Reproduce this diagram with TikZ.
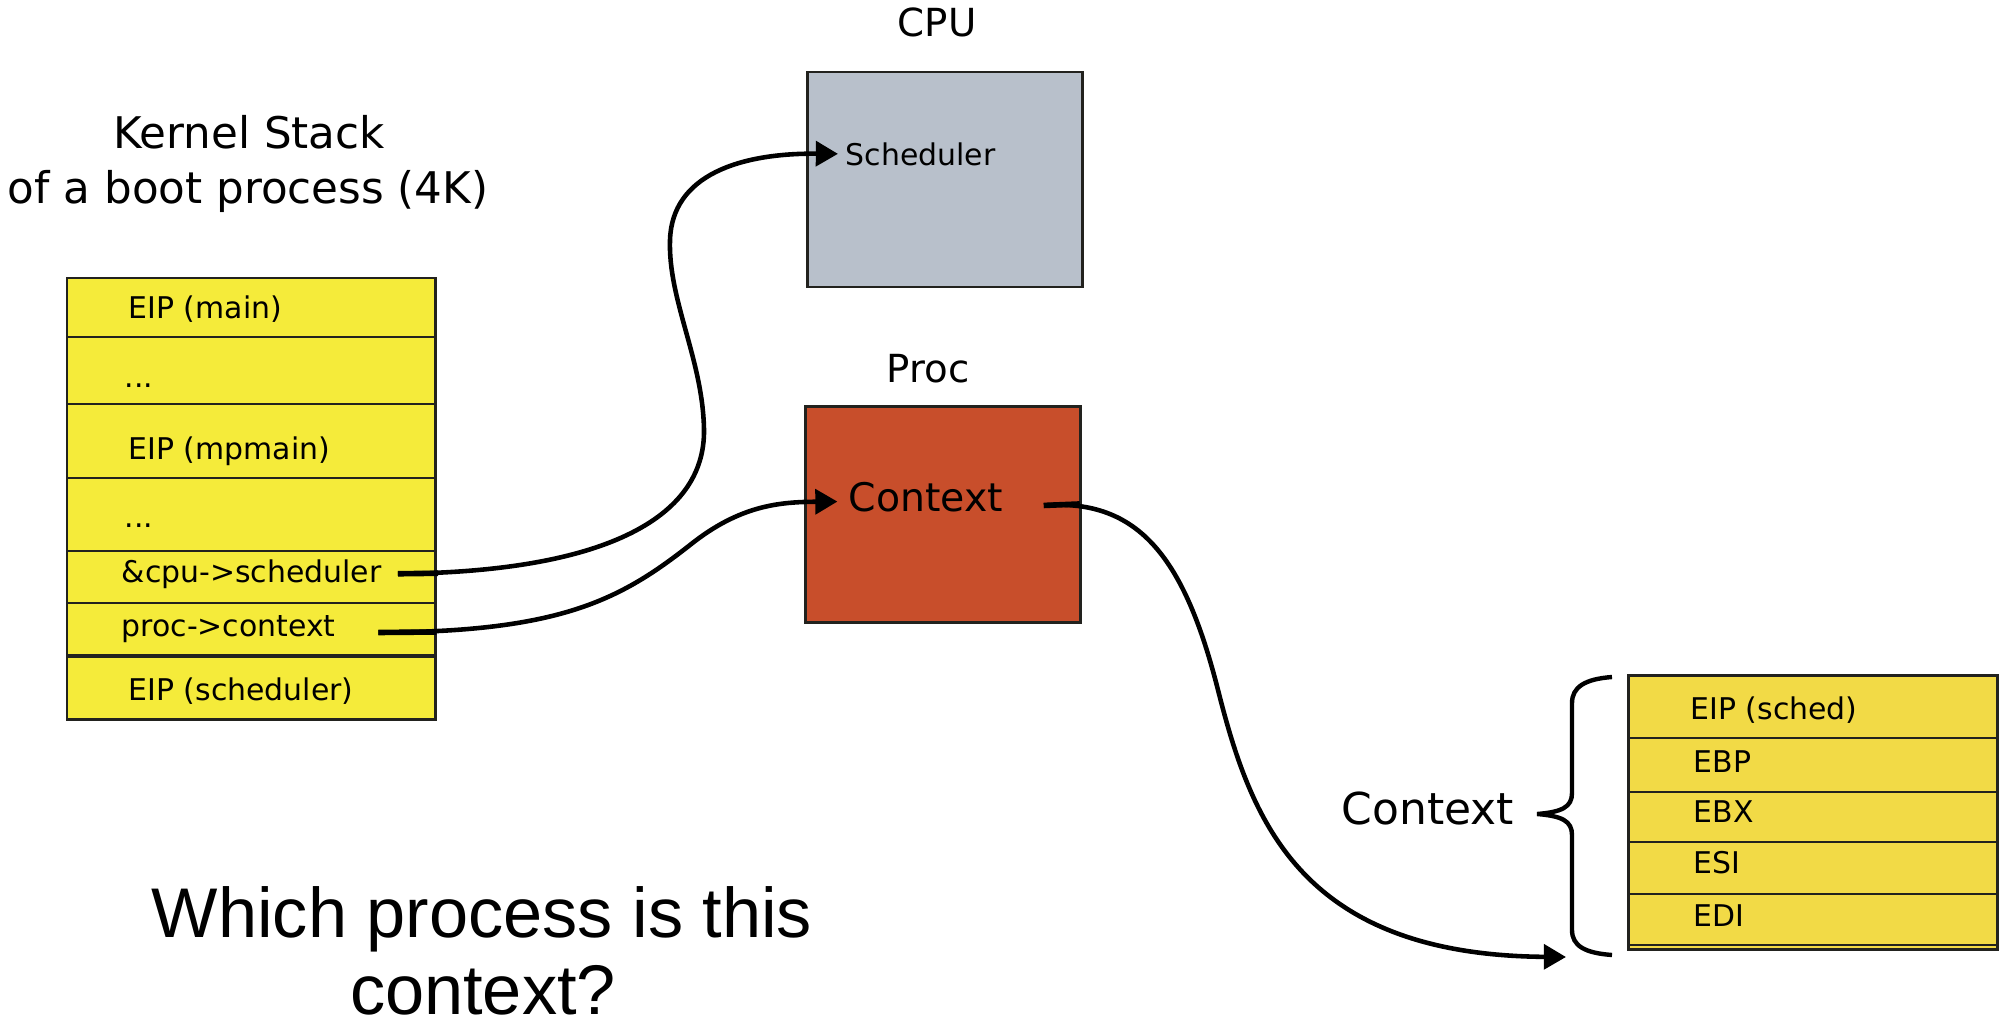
\documentclass[tikz,border=0pt]{standalone}
\usepackage{fontspec}
\setmainfont{DejaVu Sans}
\newfontfamily\askfont{Liberation Sans}
\usepackage{xcolor}
\usetikzlibrary{arrows.meta, positioning, calc}

\definecolor{stackyellow}{RGB}{245,235,58}
\definecolor{ctxyellow}{RGB}{242,218,70}
\definecolor{cpugray}{RGB}{184,192,203}
\definecolor{procred}{RGB}{200,78,43}
\definecolor{edge}{RGB}{34,34,30}

\tikzset{
    slot/.style = {font=\fontsize{8.5}{10}\selectfont, anchor=base west, inner sep=0pt},
    boxlabel/.style = {font=\fontsize{11}{13}\selectfont, anchor=base, inner sep=0pt},
    frame/.style = {draw=edge, line width=0.85pt},
    sep/.style = {draw=edge, line width=0.45pt},
    ptr/.style = {line width=1.3pt, -{Triangle[length=6.3pt, width=7pt]}},
    stub/.style = {line width=1.6pt},
}

\begin{document}
\begin{tikzpicture}[x=0.01cm, y=-0.01cm]
    \useasboundingbox (0,0) rectangle (2003,1024);
    % kernel stack
    \node[anchor=base, font=\fontsize{12.4}{15}\selectfont] (kstitle) at (249,148) {Kernel Stack};
    \node[anchor=base, font=\fontsize{12.4}{15}\selectfont] (kssub) at (248,203) {of a boot process (4K)};
    \filldraw[fill=stackyellow, frame] (67,278) rectangle (435,719);
    \foreach \y in {337,404,478,551,603}
        \draw[sep] (67,\y) -- (435,\y);
    \draw[edge, line width=1.1pt] (67,656) -- (435,656);
    \node[slot] (eipmain) at (128,318) {EIP (main)};
    \node[slot] (dotsa) at (124,387) {...};
    \node[slot] (eipmp) at (128,459) {EIP (mpmain)};
    \node[slot] (dotsb) at (124,527) {...};
    \node[slot] (cpuptr) at (121,582) {\&cpu->scheduler};
    \node[slot] (procptr) at (121,636) {proc->context};
    \node[slot] (eipsched) at (128,700) {EIP (scheduler)};
    % cpu and proc
    \node[boxlabel] (cpulabel) at (937,37) {CPU};
    \filldraw[fill=cpugray, frame] (807,72) rectangle (1082,287);
    \node[slot] (sched) at (845,165) {Scheduler};
    \node[boxlabel] (proclabel) at (928,382) {Proc};
    \filldraw[fill=procred, frame] (805,406) rectangle (1080,622);
    \node[slot, font=\fontsize{11.2}{13}\selectfont] (ctx) at (848,511) {Context};
    % saved context
    \filldraw[fill=ctxyellow, frame] (1628,675) rectangle (1997,949);
    \foreach \y in {738,792,842,894,945}
        \draw[sep] (1628,\y) -- (1997,\y);
    \node[slot] (regeip) at (1690,719) {EIP (sched)};
    \node[slot] (regebp) at (1693,772) {EBP};
    \node[slot] (regebx) at (1693,822) {EBX};
    \node[slot] (regesi) at (1693,873) {ESI};
    \node[slot] (regedi) at (1693,926) {EDI};
    \draw[line width=1.25pt] (1612,677) .. controls (1585,679) and (1572,687) .. (1572,703) -- (1572,793)
        .. controls (1572,807) and (1562,812) .. (1537,814) .. controls (1562,816) and (1572,821) .. (1572,835)
        -- (1572,930) .. controls (1572,946) and (1585,953) .. (1612,955);
    \node[anchor=base, font=\fontsize{12.5}{15}\selectfont] (ctxlabel) at (1428,824) {Context};
    \coordinate (ctxend) at (1566,957);
    % pointers
    \draw[ptr] ([xshift=4.5pt]cpuptr.east) .. controls (600,572) and (705,520) .. (704,430)
        .. controls (703,360) and (668,300) .. (670,240) .. controls (672,175) and (740,153) .. ([xshift=-2pt]sched.west);
    \draw[stub] ([xshift=4.5pt]cpuptr.east) -- ++(40,-0.5);
    \draw[ptr] ([xshift=12pt, yshift=-1.1pt]procptr.east) .. controls (560,632) and (620,600) .. (690,545)
        .. controls (740,505) and (780,502) .. ([xshift=-3pt, yshift=-1.4pt]ctx.west);
    \draw[stub] ([xshift=12pt, yshift=-1.1pt]procptr.east) -- ++(58,-0.5);
    \draw[ptr] ([xshift=11.4pt, yshift=-2.5pt]ctx.east) .. controls (1140,498) and (1185,560) .. (1218,690)
        .. controls (1251,820) and (1300,955) .. (ctxend);
    \draw[stub] ([xshift=11.4pt, yshift=-2.5pt]ctx.east) -- ++(36,-1.5);
    % question
    \node[anchor=base, font=\askfont\fontsize{20}{24}\selectfont] (askA) at (482,937) {Which process is this};
    \node[anchor=base, font=\askfont\fontsize{20}{24}\selectfont] (askB) at (483,1014) {context?};
\end{tikzpicture}
\end{document}
